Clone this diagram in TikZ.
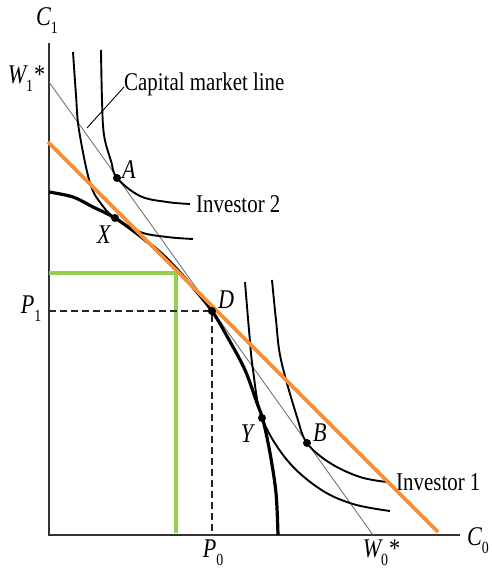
\documentclass[tikz,border=0pt]{standalone}
\usepackage{fontspec}
\setmainfont{Liberation Serif}
\newfontfamily\lab[FakeStretch=0.82]{Liberation Serif}
\newcommand\sbs[1]{\raisebox{-0.3em}{\fontsize{17}{17}\selectfont\upshape #1}}
\definecolor{myorange}{RGB}{241,145,60}
\definecolor{mygreen}{RGB}{146,208,80}
\begin{document}
\begin{tikzpicture}[x=1pt,y=-1pt,
  axis/.style={line width=1.5pt,draw=black!80},
  cml/.style={line width=0.9pt,draw=black!55},
  indiff/.style={line width=1.9pt,draw=black},
  prod/.style={line width=3.2pt,draw=black},
  guide/.style={line width=1.2pt,draw=black!85,dash pattern=on 7pt off 4pt},
  dot/.style={circle,fill=black,inner sep=0pt,minimum size=8pt},
  txt/.style={font=\lab\fontsize{25.5}{25.5}\selectfont,inner sep=1pt},
  mth/.style={font=\lab\fontsize{27}{27}\selectfont\itshape,inner sep=1pt}]
\useasboundingbox (0,0) rectangle (492,569);
% axes
\coordinate (O) at (49,535);
\coordinate (ytop) at (49,43);
\coordinate (xend) at (460,535);
\draw[axis] (ytop) -- (O) -- (xend);
\node[mth] (c1) at (47,21) {C\sbs{1}};
\node[mth] (c0) at (478,541) {C\sbs{0}};
% green
\coordinate (g1) at (49,273);
\coordinate (g2) at (176,273);
\coordinate (g3) at (176,533);
\draw[line width=3.4pt,mygreen] (g1) -- (g2) -- (g3);
% CML
\coordinate (W1) at (49,82);
\coordinate (W0) at (373,535);
\draw[cml] (W1) -- (W0);
\node[mth] (w1) at (26,79) {W\sbs{1}*};
\node[mth] (w0) at (381,553) {W\sbs{0}*};
\node[txt,anchor=west] (cmllab) at (123,84) {Capital market line};
\coordinate (cmlpt) at (87,128);
\draw[line width=0.9pt] (cmllab.west) ++(1,3) -- (cmlpt);
% dashed guides
\node[dot] (D) at (212,311) {};
\coordinate (P1) at (49,311);
\coordinate (P0) at (212,535);
\draw[guide] (P1) -- (D) -- (P0);
\node[mth] (p1) at (31,309) {P\sbs{1}};
\node[mth] (p0) at (213,553) {P\sbs{0}};
% indifference curves investor 2
\draw[indiff] plot[smooth,tension=0.6] coordinates {(73,52) (76,95) (79,130) (90,183) (102,205) (115,218) (140,232) (167,237) (193,239)};
\draw[indiff] plot[smooth,tension=0.6] coordinates {(101,50) (102,100) (104,135) (111,161) (117,178) (140,196) (167,202) (190,204)};
\node[txt,anchor=west] (inv2) at (195,204) {Investor 2};
% indifference curves investor 1
\draw[indiff] plot[smooth,tension=0.6] coordinates {(245,282) (249,330) (253,370) (262,418) (287,460) (320,489) (353,504) (390,511)};
\draw[indiff] plot[smooth,tension=0.6] coordinates {(272,280) (276,320) (281,360) (297,417) (307,443) (330,463) (360,477) (387,482)};
\node[txt,anchor=west] (inv1) at (395,482) {Investor 1};
% production opportunity curve
\draw[prod] plot[smooth,tension=0.55] coordinates {(49,192) (73,197) (93,207) (115,218) (140,236) (165,257) (190,284) (212,311) (228,338) (245,370) (257,403) (263,420) (270,453) (276,493) (278,535)};
% orange line
\coordinate (o1) at (48,142);
\coordinate (o2) at (438,532);
\draw[line width=3.8pt,myorange] (o1) -- (o2);
% points
\node[dot] (A) at (117,178) {};
\node[dot] (X) at (115,218) {};
\node[dot] at (D) {};
\node[dot] (Y) at (262,418) {};
\node[dot] (B) at (307,443) {};
\node[mth] (la) at (129,170) {A};
\node[mth] (lx) at (104,235) {X};
\node[mth] (ld) at (226,300) {D};
\node[mth] (ly) at (247,434) {Y};
\node[mth] (lb) at (320,433) {B};
\end{tikzpicture}
\end{document}
